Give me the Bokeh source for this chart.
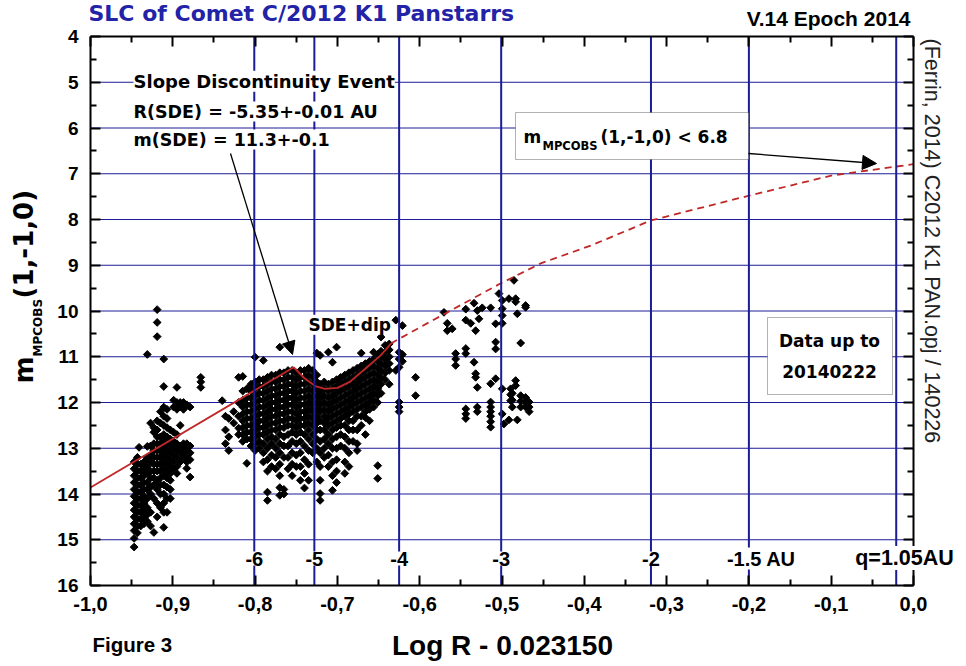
import numpy as np
from bokeh.plotting import figure
from bokeh.models import (Range1d, LinearAxis, FixedTicker, CustomJSTickFormatter,
                          Label, Arrow, NormalHead, BoxAnnotation)
from bokeh.embed import file_html
from bokeh.resources import INLINE

# ---------------- data ----------------
title_text = "SLC of Comet C/2012 K1 Panstarrs"
version_text = "V.14 Epoch 2014"
side_text = "(Ferrin, 2014) C2012 K1 PAN.opj / 140226"

x_ticks = [-1.0, -0.9, -0.8, -0.7, -0.6, -0.5, -0.4, -0.3, -0.2, -0.1, 0.0]
x_minor = [-0.95, -0.85, -0.75, -0.65, -0.55, -0.45, -0.35, -0.25, -0.15, -0.05]
y_ticks = [4, 5, 6, 7, 8, 9, 10, 11, 12, 13, 14, 15, 16]
y_minor = [4.5, 5.5, 6.5, 7.5, 8.5, 9.5, 10.5, 11.5, 12.5, 13.5, 14.5, 15.5]
grid_y = [5, 6, 7, 8, 9, 10, 11, 12, 13, 14, 15]

# heliocentric distance markers (x positions)
au_x = [-0.801, -0.728, -0.625, -0.501, -0.319, -0.200, -0.021]
au_labels = ["-6", "-5", "-4", "-3", "-2", "-1.5 AU", "q=1.05AU"]

# secular light curve fit
curve_solid_x = [-1.0, -0.753, -0.740, -0.727, -0.715, -0.700, -0.685, -0.664, -0.6475, -0.639, -0.635]
curve_solid_y = [13.86, 11.23, 11.47, 11.64, 11.70, 11.68, 11.55, 11.23, 10.97, 10.80, 10.71]
curve_dash_x = [-0.635, -0.591, -0.502, -0.453, -0.392, -0.319, -0.200, -0.100, 0.0]
curve_dash_y = [10.71, 10.27, 9.40, 8.96, 8.57, 8.02, 7.48, 7.04, 6.79]

# observations, read column by column: (log R - 0.023150, [magnitudes])
obs_far = [
    (-0.947, [13.3, 13.45, 13.6, 13.75, 13.9, 14.05, 14.2, 14.35, 14.5, 14.65, 14.8, 14.97, 15.16]),
    (-0.943, [13.2, 13.35, 13.5, 13.65, 13.8, 13.95, 14.1, 14.25, 14.4, 14.55, 14.7, 14.85]),
    (-0.941, [12.98]),
    (-0.939, [13.35, 13.5, 13.65, 13.8, 13.95, 14.1, 14.25, 14.4, 14.55, 14.7]),
    (-0.935, [13.3, 13.45, 13.6, 13.75, 13.9, 14.05, 14.2, 14.35, 14.5, 14.65]),
    (-0.931, [10.95, 12.96, 13.2, 13.4, 13.55, 13.75, 13.9, 14.1, 14.3, 14.45, 14.6]),
    (-0.927, [12.45, 12.95, 13.15, 13.3, 13.5, 13.65, 13.85, 14.0, 14.4, 14.7]),
    (-0.923, [12.55, 12.65, 12.9, 13.05, 13.2, 13.35, 13.5, 13.65, 13.8, 14.1, 14.84]),
    (-0.919, [9.97, 10.25, 10.56, 12.4, 12.6, 12.75, 12.9, 13.05, 13.2, 13.35, 13.5, 13.7, 13.9, 14.2, 14.5]),
    (-0.915, [12.2, 12.45, 12.75, 12.9, 13.05, 13.2, 13.35, 13.5, 13.65, 13.8, 14.0, 14.3]),
    (-0.911, [11.05, 11.65, 12.1, 12.3, 12.5, 12.7, 12.85, 13.0, 13.15, 13.3, 13.45, 13.6, 13.8, 14.0, 14.2, 14.4, 14.73]),
    (-0.907, [12.15, 12.35, 12.55, 12.75, 12.9, 13.05, 13.2, 13.35, 13.5, 13.65, 13.85, 14.1, 14.4]),
    (-0.903, [12.6, 12.8, 12.95, 13.1, 13.25, 13.4, 13.55, 13.7, 13.9, 14.1]),
    (-0.899, [11.95, 12.1, 12.65, 12.85, 13.0, 13.15, 13.3, 13.45]),
    (-0.895, [11.67, 12.0, 12.15, 12.7, 12.9, 13.05, 13.2, 13.4, 13.55]),
    (-0.891, [12.0, 12.1, 12.5, 12.95, 13.1, 13.3]),
    (-0.887, [12.0, 12.15, 12.9, 13.05, 13.2]),
    (-0.883, [12.05, 12.9, 13.0, 13.15, 13.3, 13.44]),
    (-0.879, [12.1, 12.95, 13.1, 13.25, 13.63]),
    (-0.866, [11.45, 11.55, 11.67]),
]

obs_mid = [
    (-0.840, [11.96]),
    (-0.836, [12.3, 12.6, 12.9]),
    (-0.832, [12.35, 12.75, 13.05]),
    (-0.826, [12.2, 12.45]),
    (-0.820, [11.45, 12.0, 12.3, 12.56, 12.7]),
    (-0.815, [11.43, 11.75, 11.95, 12.1, 12.25, 12.4, 12.55, 12.7, 12.85]),
    (-0.810, [11.7, 11.9, 12.05, 12.2, 12.35, 12.5, 12.65, 12.8, 13.33]),
    (-0.805, [11.6, 11.75, 11.9, 12.05, 12.2, 12.35, 12.5, 12.65, 12.8, 12.95]),
    (-0.800, [11.01, 11.55, 11.7, 11.85, 12.0, 12.15, 12.3, 12.45, 12.6, 12.75, 12.9, 13.05]),
    (-0.795, [11.5, 11.65, 11.8, 11.95, 12.1, 12.25, 12.4, 12.55, 12.7, 12.85, 13.0]),
    (-0.790, [11.08, 11.5, 11.65, 11.8, 11.95, 12.1, 12.25, 12.4, 12.55, 12.7, 12.9, 13.1, 13.3]),
    (-0.785, [11.45, 11.6, 11.75, 11.9, 12.05, 12.2, 12.35, 12.5, 12.65, 12.8, 13.0, 13.25, 13.5, 13.96, 14.14]),
    (-0.780, [11.4, 11.55, 11.7, 11.85, 12.0, 12.15, 12.3, 12.45, 12.6, 12.75, 12.9, 13.15, 13.4]),
    (-0.775, [11.4, 11.55, 11.7, 11.85, 12.0, 12.15, 12.3, 12.45, 12.6, 12.8, 13.0, 13.2, 13.45]),
    (-0.770, [10.79, 11.35, 11.5, 11.65, 11.8, 11.95, 12.1, 12.25, 12.4, 12.55, 12.7, 12.9, 13.1, 13.35, 13.6, 13.86, 14.03]),
    (-0.765, [11.35, 11.5, 11.65, 11.8, 11.95, 12.1, 12.25, 12.4, 12.55, 12.75, 12.95, 13.2, 13.9, 14.0]),
    (-0.760, [11.3, 11.45, 11.6, 11.75, 11.9, 12.05, 12.2, 12.35, 12.5, 12.7, 12.95, 13.2, 13.45]),
    (-0.755, [11.3, 11.45, 11.6, 11.75, 11.9, 12.05, 12.2, 12.35, 12.5, 12.65, 12.85, 13.1, 13.35, 13.6]),
    (-0.750, [11.35, 11.5, 11.65, 11.8, 11.95, 12.1, 12.25, 12.4, 12.55, 12.7, 12.9, 13.15, 13.4]),
    (-0.745, [11.3, 11.45, 11.6, 11.75, 11.9, 12.05, 12.2, 12.35, 12.5, 12.65, 12.85, 13.1, 13.4, 13.7]),
    (-0.740, [11.3, 11.45, 11.6, 11.75, 11.9, 12.05, 12.2, 12.35, 12.5, 12.7, 12.95, 13.25, 13.55, 13.87]),
    (-0.735, [11.25, 11.4, 11.55, 11.7, 11.85, 12.0, 12.15, 12.3, 12.45, 12.6, 12.8, 13.05, 13.35, 13.7]),
    (-0.730, [11.3, 11.45, 11.6, 11.75, 11.9, 12.05, 12.2, 12.35, 12.5, 12.7, 12.9, 13.1]),
    (-0.725, [10.92, 11.4, 11.55, 11.7, 11.85, 12.0, 12.15, 12.3, 12.45, 12.6, 12.8, 13.0, 13.3]),
    (-0.721, [10.97, 11.6, 11.75, 11.9, 12.05, 12.2, 12.4, 12.6, 12.85, 13.1, 13.4, 13.7, 13.99, 14.14]),
    (-0.716, [11.55, 11.7, 11.85, 12.0, 12.15, 12.3, 12.45, 12.6, 12.8, 13.0, 13.2]),
    (-0.711, [10.9, 11.6, 11.75, 11.9, 12.05, 12.2, 12.35, 12.5, 12.7, 12.9, 13.15, 13.4]),
    (-0.706, [11.12, 11.55, 11.7, 11.85, 12.0, 12.15, 12.3, 12.45, 12.6, 12.8, 13.0, 13.3, 13.6, 13.92]),
    (-0.701, [10.79, 11.5, 11.65, 11.8, 11.95, 12.1, 12.25, 12.4, 12.55, 12.75, 13.0, 13.25, 13.5, 13.75]),
    (-0.696, [11.45, 11.6, 11.75, 11.9, 12.05, 12.2, 12.35, 12.5, 12.7, 12.95]),
    (-0.691, [11.4, 11.55, 11.7, 11.85, 12.0, 12.15, 12.3, 12.5, 12.75, 13.0, 13.3, 13.55]),
    (-0.686, [11.35, 11.5, 11.65, 11.8, 11.95, 12.1, 12.25, 12.4, 12.6, 12.85, 13.1, 13.4]),
    (-0.681, [11.3, 11.45, 11.6, 11.75, 11.9, 12.05, 12.2, 12.4, 12.6, 12.85]),
    (-0.676, [11.25, 11.4, 11.55, 11.7, 11.85, 12.0, 12.15, 12.3, 12.6, 12.9, 13.05]),
    (-0.671, [10.92, 11.2, 11.35, 11.5, 11.65, 11.8, 11.95, 12.1, 12.3, 12.5]),
    (-0.666, [11.15, 11.3, 11.45, 11.6, 11.75, 11.9, 12.05, 12.2, 12.33, 12.7]),
    (-0.661, [11.1, 11.25, 11.4, 11.55, 11.7, 11.85, 12.0, 12.15, 12.4]),
    (-0.656, [10.9, 11.05, 11.2, 11.35, 11.5, 11.65, 11.8, 11.95, 12.1]),
    (-0.651, [10.95, 11.1, 11.25, 11.4, 11.55, 11.7, 11.85, 12.0, 13.38, 13.66]),
    (-0.647, [10.57, 10.88, 11.0, 11.15, 11.3, 11.45, 11.6, 11.8]),
    (-0.642, [10.75, 10.9, 11.05, 11.2, 11.35, 11.5]),
    (-0.637, [10.72, 10.85, 11.0, 11.15, 11.3, 11.6]),
]

obs_near = [
    (-0.629, [10.2, 11.3]),
    (-0.625, [10.9, 11.05, 11.23, 11.99, 12.1, 12.2]),
    (-0.621, [10.32, 10.95, 11.1]),
    (-0.605, [11.45, 11.85]),
    (-0.5705, [10.03]),
    (-0.5665, [10.27, 10.43]),
    (-0.5605, [10.39]),
    (-0.5563, [10.93, 11.05, 11.19]),
    (-0.544, [9.96, 10.2, 10.82, 10.93, 12.14, 12.25, 12.35]),
    (-0.538, [10.27]),
    (-0.534, [9.83, 11.12]),
    (-0.532, [10.43, 11.37, 11.45]),
    (-0.530, [9.99, 11.67, 12.1, 12.2]),
    (-0.528, [10.17]),
    (-0.524, [9.93]),
    (-0.5138, [9.93, 11.59, 11.99, 12.1, 12.2, 12.3, 12.42, 12.54]),
    (-0.5077, [10.28, 10.68, 10.83, 11.48]),
    (-0.5037, [9.62]),
    (-0.4997, [9.77, 9.95, 10.1, 10.27, 11.7, 12.25]),
    (-0.4977, [12.47]),
    (-0.4916, [9.73, 12.38]),
    (-0.4895, [11.7, 11.83, 11.96]),
    (-0.4875, [11.8, 11.95, 12.1]),
    (-0.4855, [9.33]),
    (-0.4834, [9.73, 9.8, 11.52, 11.63]),
    (-0.4814, [10.06, 12.38]),
    (-0.4773, [10.7, 11.85, 11.97, 12.1]),
    (-0.4713, [9.88, 9.92, 11.89, 12.0, 12.1]),
    (-0.467, [11.99, 12.1, 12.2]),
]

# ---------------- layout (canvas pixels of the plotting box) ----------------
W, H = 966, 664
FL, FR, FT, FB = 90.0, 913.0, 36.0, 585.0
XMIN, XMAX, YMIN, YMAX = -1.0, 0.0, 4.0, 16.0
SX = (FR - FL) / (XMAX - XMIN)
SY = (FB - FT) / (YMAX - YMIN)
BASE_SHIFT = 0.4   # em offset between Bokeh's alphabetic anchor and the drawn baseline


def dx(px):
    return XMIN + (px - FL) / SX


def dy(py):
    return YMIN + (py - FT) / SY


BLUE = "#1c1c96"
RED = "#c02828"
ARIAL = "Liberation Sans"
WIDE = "DejaVu Sans"

# the frame spans the whole canvas; the axes are pinned to the plotting box
p = figure(width=W, height=H, x_range=Range1d(dx(0), dx(W)), y_range=Range1d(dy(H), dy(0)),
           output_backend="svg", toolbar_location=None, title=None,
           x_axis_location=None, y_axis_location=None, min_border=0)
p.background_fill_color = "white"
p.border_fill_color = "white"
p.outline_line_color = None
p.xgrid.visible = False
p.ygrid.visible = False

xt = FixedTicker(ticks=x_ticks, minor_ticks=x_minor)
yt = FixedTicker(ticks=y_ticks, minor_ticks=y_minor)


def make_axis(ticker, loc, bounds, show, side):
    ax = LinearAxis(ticker=ticker, fixed_location=loc, bounds=bounds)
    ax.axis_line_width = 2
    ax.axis_line_color = "black"
    ax.major_tick_in = 10
    ax.major_tick_out = 0
    ax.minor_tick_in = 6
    ax.minor_tick_out = 0
    ax.major_tick_line_width = 2
    ax.minor_tick_line_width = 2
    ax.major_label_text_color = "black"
    ax.major_label_text_font = ARIAL
    ax.major_label_text_font_style = "bold"
    if not show:
        ax.formatter = CustomJSTickFormatter(code="return '';")
    p.add_layout(ax, side)
    return ax


bottom = make_axis(xt, YMAX, (XMIN, XMAX), True, "below")
bottom.formatter = CustomJSTickFormatter(code="return tick.toFixed(1).replace('.', ',');")
bottom.major_label_text_font_size = "20px"
bottom.major_label_standoff = 11
left = make_axis(yt, XMIN, (YMIN, YMAX), True, "left")
left.formatter = CustomJSTickFormatter(code="return tick.toFixed(0);")
left.major_label_text_font_size = "19px"
left.major_label_standoff = 12
make_axis(xt, YMIN, (XMIN, XMAX), False, "above")
make_axis(yt, XMAX, (YMIN, YMAX), False, "right")

# horizontal grid lines
p.segment(x0=[XMIN] * len(grid_y), y0=grid_y, x1=[XMAX] * len(grid_y), y1=grid_y,
          line_color=BLUE, line_width=1)

# observations
ox, oy = [], []
for group in (obs_far, obs_mid, obs_near):
    for xv, ys in group:
        for yv in ys:
            ox.append(xv)
            oy.append(yv)
p.scatter(ox, oy, marker="square", angle=np.pi / 4, size=5.5, color="black")

# fitted curve
p.line(curve_solid_x, curve_solid_y, line_color=RED, line_width=1.8)
p.line(curve_dash_x, curve_dash_y, line_color=RED, line_width=1.8, line_dash="7 5")

# distance markers
p.segment(x0=au_x, y0=[YMIN] * len(au_x), x1=au_x, y1=[YMAX] * len(au_x),
          line_color=BLUE, line_width=2)

# boxes
p.add_layout(BoxAnnotation(left=dx(515), right=dx(748), top=dy(112), bottom=dy(159),
                           fill_color="white", fill_alpha=1, line_color="black", line_width=1))
p.add_layout(BoxAnnotation(left=dx(767), right=dx(892), top=dy(317), bottom=dy(394),
                           fill_color="white", fill_alpha=1, line_color="black", line_width=1))


def lab(text, px, py, size, font=ARIAL, bold=True, align="left", baseline="alphabetic",
        color="black", angle=0.0, bg=None):
    fs = float(size.replace("px", ""))
    if baseline == "alphabetic":
        if angle == 0.0:
            py -= BASE_SHIFT * fs
        elif angle > 0:
            px -= BASE_SHIFT * fs
        else:
            px += BASE_SHIFT * fs
    l = Label(x=dx(px), y=dy(py), text=text, text_font=font, text_font_size=size,
              text_font_style="bold" if bold else "normal", text_align=align,
              text_baseline=baseline, text_color=color, angle=angle)
    if bg:
        l.background_fill_color = bg
        l.background_fill_alpha = 1
    p.add_layout(l)


# distance labels
au_offsets = [0, 0, 0, 0, 0, -22, -41]
au_sizes = ["20px", "20px", "20px", "20px", "20px", "20px", "21.5px"]
for xv, t, off, fs in zip(au_x, au_labels, au_offsets, au_sizes):
    px = FL + (xv - XMIN) * SX
    if off == 0:
        lab(t, px, 566, fs, align="center", bg="white")
    else:
        lab(t, px + off, 566, fs, align="left", bg="white")

# SDE annotation
lab("Slope Discontinuity Event", 133, 88, "18px", font=WIDE, bg="white")
lab("R(SDE) = -5.35+-0.01 AU", 133, 118, "17.5px", font=WIDE, bg="white")
lab("m(SDE) = 11.3+-0.1", 133, 146, "17.5px", font=WIDE, bg="white")
lab("SDE+dip", 308, 331, "17px", font=WIDE, bg="white")

p.add_layout(Arrow(end=NormalHead(size=13, fill_color="black", line_color="black"),
                   x_start=dx(230), y_start=dy(153), x_end=dx(292), y_end=dy(354),
                   line_color="black", line_width=1.3))
p.add_layout(Arrow(end=NormalHead(size=14, fill_color="black", line_color="black"),
                   x_start=dx(748), y_start=dy(153), x_end=dx(876), y_end=dy(163),
                   line_color="black", line_width=1.3))

# limit box text
lab("m", 523, 143, "17px", font=WIDE)
lab("MPCOBS", 542, 150, "11.5px", font=WIDE)
lab("(1,-1,0) < 6.8", 600, 143, "17px", font=WIDE)

# data-up-to box
lab("Data up to", 829, 347, "17px", font=WIDE, align="center")
lab("20140222", 829, 378, "17px", font=WIDE, align="center")

# y axis title (rotated, with subscript)
lab("m", 34, 383, "26px", font=WIDE, angle=np.pi / 2)
lab("MPCOBS", 42, 356, "12px", font=WIDE, angle=np.pi / 2)
lab("(1,-1,0)", 34, 298, "26px", font=WIDE, angle=np.pi / 2)

# x axis title and captions
lab("Log R - 0.023150", 502, 656, "28px", align="center")
lab("Figure 3", 92, 652, "20.5px")
lab(title_text, 88, 22, "22px", font=WIDE, color="#2323a8")
lab(version_text, 910, 26, "21px", align="right")
lab(side_text, 931, 38, "21.5px", bold=False, baseline="middle", angle=-np.pi / 2,
    color="#222222")

open("out.html", "w").write(file_html(p, INLINE))
